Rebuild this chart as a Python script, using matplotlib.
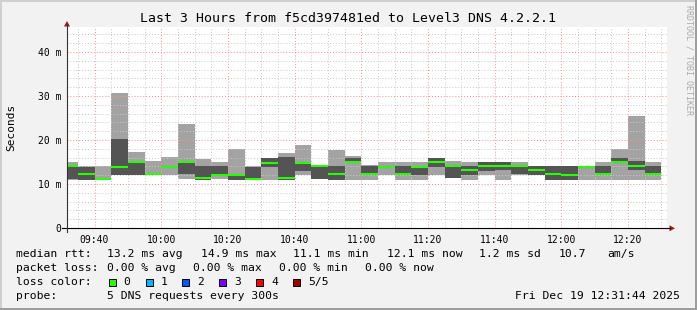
import numpy as np
import matplotlib
matplotlib.use("Agg")
import matplotlib.pyplot as plt
from matplotlib.patches import Rectangle, Polygon
from matplotlib.ticker import MultipleLocator, FuncFormatter

# smoke data: 5 pings per step, sorted (ms)
lo = [11.0, 11.0, 10.9, 12.0, 12.0, 12.0, 12.0, 11.05, 11.0, 11.05, 10.95, 10.9,
      11.0, 11.0, 12.0, 11.2, 11.0, 11.0, 11.0, 12.0, 11.0, 11.0, 12.0, 11.3,
      11.0, 12.0, 11.0, 12.0, 12.0, 11.0, 11.0, 11.0, 11.0, 11.0, 11.0, 11.0]
q1 = [11.1, 11.0, 11.0, 12.0, 12.0, 12.2, 13.6, 12.2, 11.0, 11.9, 10.95, 10.9,
      13.8, 11.0, 13.0, 11.2, 11.0, 14.8, 12.0, 13.8, 12.0, 12.0, 13.8, 11.3,
      12.0, 12.9, 13.1, 12.2, 12.0, 11.0, 11.0, 13.6, 12.0, 14.9, 13.1, 12.0]
med = [14.0, 12.3, 11.1, 13.8, 14.9, 12.3, 13.8, 14.9, 11.35, 12.0, 12.0, 11.1,
       14.8, 11.35, 14.8, 14.1, 12.2, 15.0, 12.3, 13.9, 12.3, 13.8, 15.0, 14.0,
       13.2, 14.0, 14.0, 14.0, 13.2, 12.3, 12.0, 13.8, 12.3, 15.0, 14.1, 12.2]
q3 = [14.1, 13.95, 11.2, 20.3, 15.2, 12.4, 14.0, 15.15, 14.0, 14.0, 12.0, 13.8,
      15.8, 16.05, 15.0, 14.1, 14.0, 16.0, 14.2, 14.0, 14.0, 13.85, 15.8, 14.0,
      14.0, 14.9, 14.9, 14.0, 14.0, 14.0, 14.0, 14.0, 14.0, 15.8, 15.15, 14.0]
hi = [14.9, 14.0, 14.0, 30.6, 17.2, 15.15, 16.05, 23.6, 15.6, 14.9, 17.9, 14.2,
      15.85, 17.0, 18.8, 14.4, 17.65, 16.3, 14.25, 14.9, 14.9, 14.9, 15.85, 15.15,
      14.9, 14.95, 14.95, 14.9, 14.0, 14.0, 14.0, 14.05, 14.9, 17.9, 25.45, 14.9]

# time axis in minutes since midnight
t_start = 9 * 60 + 31 + 44 / 60   # 09:31:44
t_end = 12 * 60 + 31 + 44 / 60    # 12:31:44
step = 5
edges = np.concatenate([[t_start], np.arange(575, 750 + step, step)])

y_top = 45.68
W, H = 697, 310

loss_labels = ["0", "1", "2", "3", "4", "5/5"]
loss_colors = ["#26ff00", "#00b8ff", "#0059ff", "#7e00ff", "#ff0000", "#a10000"]

mono = "DejaVu Sans Mono"


def px(x, y):
    return x / W, 1 - y / H


fig = plt.figure(figsize=(W / 100, H / 100), dpi=100, facecolor="#f2f2f2")
ax = fig.add_axes([67 / W, (H - 228) / H, 600 / W, 201 / H])
ax.set_facecolor("white")

left = edges[:-1]
width = np.diff(edges)
lo_a, q1_a, med_a, q3_a, hi_a = map(np.array, (lo, q1, med, q3, hi))
ax.bar(left, hi_a - lo_a, bottom=lo_a, width=width, align="edge", color="#a3a3a3", lw=0, zorder=2)
ax.bar(left, q3_a - q1_a, bottom=q1_a, width=width, align="edge", color="#545454", lw=0, zorder=3)
ax.hlines(med_a, left, left + width, color="#26ff00", lw=1.5, zorder=4)

ax.set_xlim(t_start, t_end)
ax.set_ylim(0, y_top)
ax.xaxis.set_major_locator(MultipleLocator(20))
ax.xaxis.set_minor_locator(MultipleLocator(5))
ax.yaxis.set_major_locator(MultipleLocator(10))
ax.yaxis.set_minor_locator(MultipleLocator(2))
ax.xaxis.set_major_formatter(FuncFormatter(lambda v, p: "%02d:%02d" % (v // 60, v % 60)))
ax.yaxis.set_major_formatter(FuncFormatter(lambda v, p: "0" if v == 0 else "%d m" % v))

ax.grid(which="minor", color="#c8c8c8", ls=(0, (1, 2)), lw=0.7, zorder=5)
ax.grid(which="major", color="#ff8c8c", ls=(0, (1, 2)), lw=0.7, zorder=5)
ax.set_axisbelow(False)

for s in ax.spines.values():
    s.set_visible(False)
ax.tick_params(which="both", length=0)
ax.tick_params(axis="x", pad=5, labelsize=7)
ax.tick_params(axis="y", pad=4, labelsize=7)
for lab in ax.get_xticklabels() + ax.get_yticklabels():
    lab.set_family(mono)

# axis lines and arrows
fig.add_artist(plt.Line2D([62 / W, 670 / W], [1 - 228 / H] * 2, color="black", lw=0.8))
fig.add_artist(plt.Line2D([67 / W] * 2, [1 - 232 / H, 1 - 24 / H], color="#333333", lw=0.8))
fig.add_artist(Polygon([px(669.5, 225.3), px(669.5, 231.3), px(675, 228.3)], closed=True,
                       color="#9a1c1c", lw=0))
fig.add_artist(Polygon([px(64, 26.5), px(70, 26.5), px(67, 21)], closed=True,
                       color="#9a1c1c", lw=0))

# texts
fig.text(*px(347.5, 19), "Last 3 Hours from f5cd397481ed to Level3 DNS 4.2.2.1",
         ha="center", va="center", family=mono, fontsize=9.5)
fig.text(*px(11, 127), "Seconds", rotation=90, ha="center", va="center", family=mono, fontsize=8)
fig.text(*px(688.5, 5), "RRDTOOL / TOBI OETIKER", rotation=270, ha="center", va="top",
         family=mono, fontsize=6, color="#aaaaaa")

fs = 8.2
rows = [
    (254.3, [(16, "median rtt:"), (106.7, "13.2 ms avg"), (200.7, "14.9 ms max"),
             (293.3, "11.1 ms min"), (386.7, "12.1 ms now"), (479.3, "1.2 ms sd"),
             (558.3, "10.7"), (607.7, "am/s")]),
    (268.3, [(16, "packet loss:"), (106.7, "0.00 % avg"), (193.3, "0.00 % max"),
             (279, "0.00 % min"), (365, "0.00 % now")]),
    (282.3, [(16, "loss color:")]),
    (296, [(16, "probe:"), (106.7, "5 DNS requests every 300s")]),
]
for y, items in rows:
    for x, s in items:
        fig.text(*px(x, y), s, ha="left", va="center", family=mono, fontsize=fs)
fig.text(*px(680, 296), "Fri Dec 19 12:31:44 2025", ha="right", va="center", family=mono, fontsize=fs)

box_x = [109, 145.7, 182.3, 219, 256.3, 293.3]
txt_x = [123.3, 160.3, 197, 234, 271, 308.3]
for bx, tx, c, l in zip(box_x, txt_x, loss_colors, loss_labels):
    fig.add_artist(Rectangle(px(bx, 286), 7 / W, 7 / H, facecolor=c, edgecolor="black", lw=0.7))
    fig.text(*px(tx, 282.3), l, ha="left", va="center", family=mono, fontsize=fs)

# 3d frame
fig.add_artist(Rectangle((0, 1 - 2 / H), 1, 2 / H, color="#cfcfcf", lw=0))
fig.add_artist(Rectangle((0, 0), 2 / W, 1, color="#cfcfcf", lw=0))
fig.add_artist(Rectangle((0, 0), 1, 2.5 / H, color="#9e9e9e", lw=0))
fig.add_artist(Rectangle((1 - 2.5 / W, 0), 2.5 / W, 1, color="#9e9e9e", lw=0))

fig.savefig("out.png", dpi=100, facecolor=fig.get_facecolor())
